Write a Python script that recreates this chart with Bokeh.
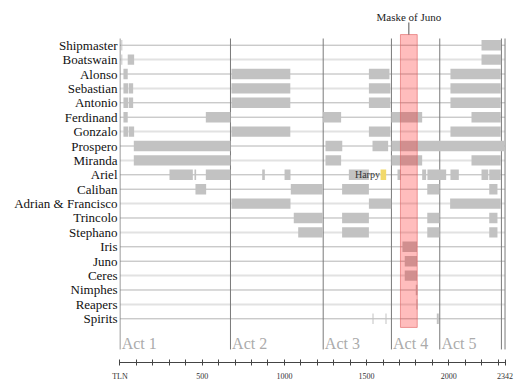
from bokeh.plotting import figure
from bokeh.models import Range1d, LinearAxis, FixedTicker, ColumnDataSource
from bokeh.core.properties import value
from bokeh.embed import file_html
from bokeh.resources import INLINE

roles = ["Shipmaster", "Boatswain", "Alonso", "Sebastian", "Antonio", "Ferdinand",
         "Gonzalo", "Prospero", "Miranda", "Ariel", "Caliban", "Adrian & Francisco",
         "Trincolo", "Stephano", "Iris", "Juno", "Ceres", "Nimphes", "Reapers", "Spirits"]

# on-stage spans (TLN) for each role
bar_role = (["Shipmaster"] * 2 + ["Boatswain"] * 3 + ["Alonso"] * 4 + ["Sebastian"] * 5 +
            ["Antonio"] * 5 + ["Ferdinand"] * 5 + ["Gonzalo"] * 5 + ["Prospero"] * 4 +
            ["Miranda"] * 4 + ["Ariel"] * 12 + ["Caliban"] * 5 + ["Adrian & Francisco"] * 3 +
            ["Trincolo"] * 4 + ["Stephano"] * 4 + ["Iris", "Juno", "Ceres", "Nimphes", "Reapers"] +
            ["Spirits"] * 3)
bar_start = [8, 2199,
             8, 47, 2199,
             21, 678, 1514, 2010,
             21, 54, 678, 1514, 2010,
             21, 54, 678, 1514, 2010,
             21, 522, 1236, 1651, 2138,
             21, 54, 678, 1514, 2010,
             84, 1250, 1536, 1651,
             84, 1250, 1651, 2138,
             301, 453, 522, 865, 1001, 1392, 1688, 1838, 1870, 2010, 2199, 2246,
             459, 1039, 1351, 1869, 2246,
             678, 1514, 2008,
             1057, 1351, 1869, 2246,
             1084, 1351, 1869, 2246,
             1718, 1732, 1732, 1799, 1803,
             1536, 1615, 1927]
bar_end = [14, 2318,
           14, 86, 2318,
           47, 1036, 1639, 2316,
           50, 80, 1036, 1645, 2316,
           50, 80, 1036, 1645, 2316,
           47, 672, 1345, 1838, 2316,
           50, 86, 1036, 1645, 2316,
           672, 1352, 1631, 2340,
           672, 1345, 1838, 2316,
           443, 463, 672, 881, 1037, 1514, 1708, 1862, 1984, 2061, 2240, 2316,
           524, 1234, 1514, 1943, 2296,
           1037, 1650, 2316,
           1234, 1514, 1943, 2296,
           1234, 1514, 1943, 2296,
           1807, 1807, 1807, 1810, 1810,
           1542, 1621, 1939]

harpy_span = [1585, 1619]
masque_span = [1706, 1808]

act_names = ["Act 1", "Act 2", "Act 3", "Act 4", "Act 5"]
act_starts = [0, 672, 1236, 1651, 1945]
end_lines = [2320, 2342]
tln_total = 2342

tick_values = list(range(0, 2400, 100)) + [2342]
tick_labels = {0: "TLN", 500: "500", 1000: "1000", 1500: "1500", 2000: "2000", 2342: "2342"}

SERIF = value("Liberation Serif")
row_of = {r: i for i, r in enumerate(roles)}

p = figure(width=528, height=390, output_backend="svg", toolbar_location=None,
           x_range=Range1d(-3.04, 2484.8), y_range=Range1d(22.035, -2.549),
           x_axis_type=None, y_axis_type=None,
           min_border_left=119, min_border_right=0, min_border_top=8, min_border_bottom=28)
p.outline_line_color = None
p.background_fill_color = "white"
p.border_fill_color = "white"

# row lines
n = len(roles)
light = [(i % 5) in (1, 3) for i in range(n)]
p.segment(x0=[0] * n, x1=[tln_total] * n, y0=list(range(n)), y1=list(range(n)),
          line_color=["#e2e2e2" if l else "#b4b4b4" for l in light],
          line_width=[2 if l else 1 for l in light])

# act lines
vx = act_starts + end_lines
p.segment(x0=vx, x1=vx, y0=[-0.465] * len(vx), y1=[21.13] * len(vx),
          line_color="#7a7a7a", line_width=1)

# bars
src = ColumnDataSource(dict(y=[row_of[r] for r in bar_role], left=bar_start, right=bar_end))
p.hbar(y="y", left="left", right="right", height=0.72, source=src,
       fill_color="#c2c2c2", line_color=None)

# Harpy
p.hbar(y=[row_of["Ariel"]], left=[harpy_span[0]], right=[harpy_span[1]], height=0.72,
       fill_color="#f2d96a", line_color=None)
p.text(x=[harpy_span[0] - 4], y=[row_of["Ariel"]], text=["Harpy"], text_font=SERIF,
       text_font_size="10px", text_color="#333333", text_align="right", text_baseline="middle")

# Maske of Juno
p.quad(left=[masque_span[0]], right=[masque_span[1]], top=[-0.74], bottom=[19.6],
       fill_color="#ff0000", fill_alpha=0.26, line_color="#e06060", line_alpha=0.6, line_width=1)
mid = (masque_span[0] + masque_span[1]) / 2
p.segment(x0=[mid], x1=[mid], y0=[-1.58], y1=[-0.74], line_color="#555555", line_width=1)
p.text(x=[mid], y=[-1.99], text=["Maske of Juno"], text_font=SERIF, text_font_size="11px",
       text_color="#222222", text_align="center", text_baseline="middle")

# act labels
p.text(x=[a + 10 for a in act_starts], y=[20.71] * len(act_starts), text=act_names,
       text_font=SERIF, text_font_size="16px", text_color="#ababab",
       text_align="left", text_baseline="middle")

# left role axis
yax = LinearAxis(ticker=FixedTicker(ticks=list(range(n))),
                 major_label_overrides={i: r for i, r in enumerate(roles)})
yax.axis_line_color = None
yax.major_tick_line_color = None
yax.minor_tick_line_color = None
yax.major_tick_in = 0
yax.major_tick_out = 0
yax.major_label_standoff = 2
yax.major_label_text_font = "Liberation Serif"
yax.major_label_text_font_size = "13px"
yax.major_label_text_color = "#111111"
p.add_layout(yax, "left")

# bottom TLN axis
xax = LinearAxis(ticker=FixedTicker(ticks=tick_values),
                 major_label_overrides={t: tick_labels.get(t, "") for t in tick_values})
xax.bounds = (0, tln_total)
xax.axis_line_color = "#444444"
xax.major_tick_line_color = "#444444"
xax.minor_tick_line_color = None
xax.major_tick_in = 3
xax.major_tick_out = 3
xax.major_label_standoff = 6
xax.major_label_text_font = "Liberation Serif"
xax.major_label_text_font_size = "8px"
xax.major_label_text_color = "#333333"
p.add_layout(xax, "below")

open("out.html", "w").write(file_html(p, INLINE))
